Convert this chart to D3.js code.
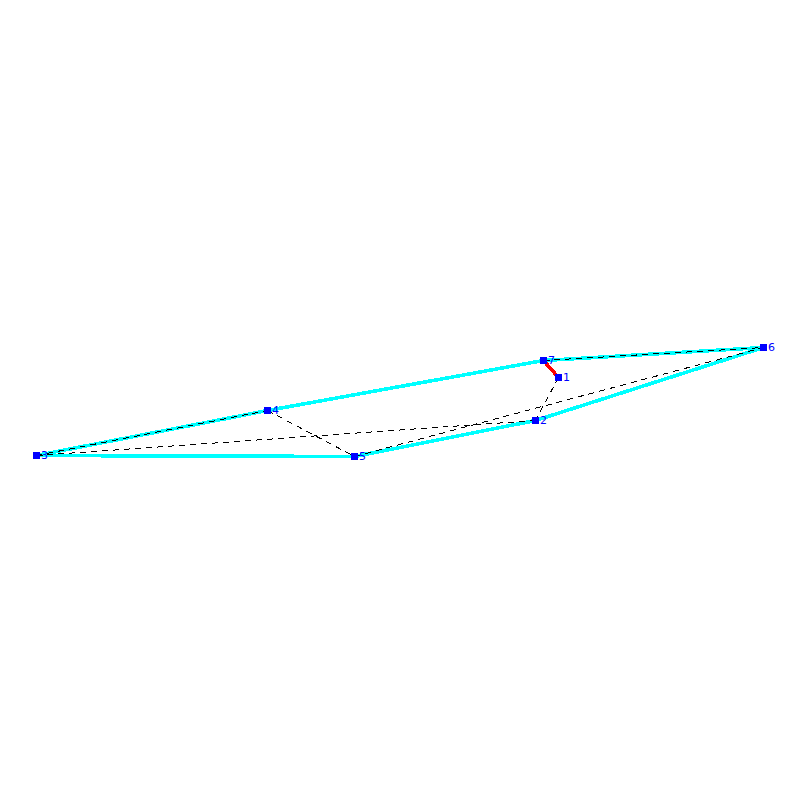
<!DOCTYPE html>
<html>
<head>
    <title>Graph</title>
    <script src="https://d3js.org/d3.v7.min.js"></script>
    <style>
        html, body { margin: 0; padding: 0; background: #fff; }
        svg { display: block; }
    </style>
</head>
<body>
<svg id="graph"></svg>
<script>
const nodeIds = [1, 2, 3, 4, 5, 6, 7];
const nodeX = [558.5, 535.5, 36.5, 267.5, 354.5, 763.5, 543.5];
const nodeY = [377.5, 420.5, 455.5, 410.5, 456.5, 347.5, 360.5];

const hullEdges = [[3, 4], [4, 7], [7, 6], [6, 2], [2, 5], [5, 3]];
const dashedEdges = [[3, 4], [4, 5], [3, 2], [5, 6], [1, 2], [7, 6]];
const redEdges = [[7, 1]];

const width = 800, height = 800;
const x = d3.scaleLinear().domain([0, 800]).range([0, width]);
const y = d3.scaleLinear().domain([0, 800]).range([0, height]);

const px = id => x(nodeX[nodeIds.indexOf(id)]);
const py = id => y(nodeY[nodeIds.indexOf(id)]);

const svg = d3.select('#graph').attr('width', width).attr('height', height);

function drawEdges(edges, color, w, dash) {
    svg.append('g').selectAll('line')
        .data(edges)
        .join('line')
        .attr('x1', d => px(d[0]))
        .attr('y1', d => py(d[0]))
        .attr('x2', d => px(d[1]))
        .attr('y2', d => py(d[1]))
        .attr('stroke', color)
        .attr('stroke-width', w)
        .attr('stroke-dasharray', dash)
        .attr('shape-rendering', 'crispEdges');
}

drawEdges(hullEdges, '#00ffff', 3.6, null);
drawEdges(dashedEdges, '#000', 1, '6,5');
drawEdges(redEdges, '#ff0000', 3.6, null);

svg.append('g').selectAll('rect')
    .data(nodeIds)
    .join('rect')
    .attr('x', d => px(d) - 3.5)
    .attr('y', d => py(d) - 3.5)
    .attr('width', 7)
    .attr('height', 7)
    .attr('fill', '#0000ff')
    .attr('shape-rendering', 'crispEdges');

svg.append('g').selectAll('text')
    .data(nodeIds)
    .join('text')
    .attr('x', d => px(d) + 4.5)
    .attr('y', d => py(d) + 3.5)
    .attr('font-family', 'DejaVu Sans')
    .attr('font-size', '11px')
    .attr('fill', '#0000ff')
    .text(d => d);
</script>
</body>
</html>
